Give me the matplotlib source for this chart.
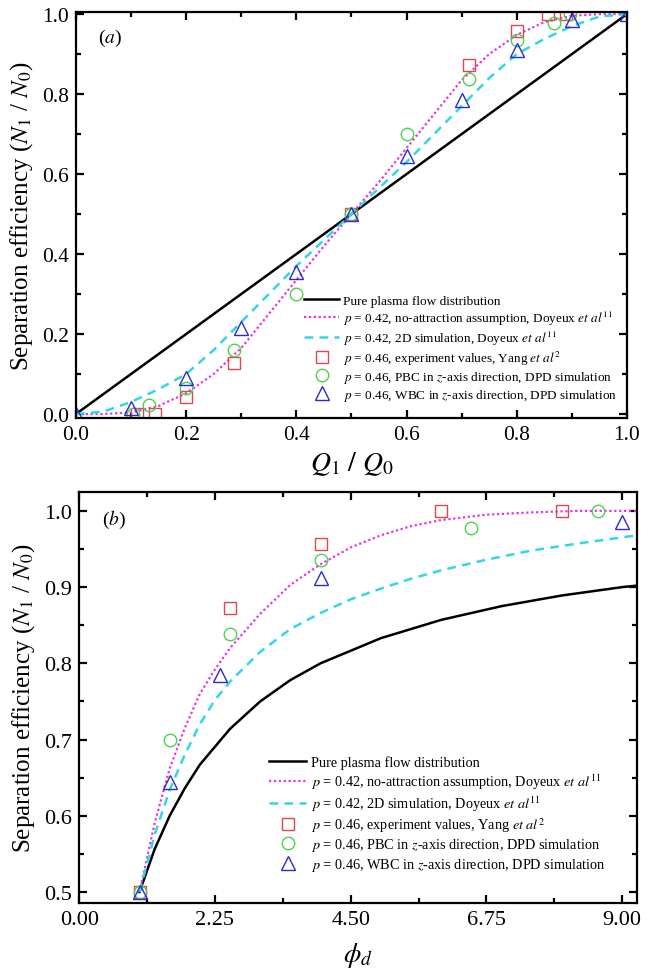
import matplotlib
matplotlib.use('Agg')
import matplotlib.pyplot as plt
from matplotlib.ticker import MultipleLocator, FormatStrFormatter

plt.rcParams['font.family'] = ['Liberation Serif', 'DejaVu Serif']
plt.rcParams['mathtext.fontset'] = 'stix'

# ---- panel (a): Q1/Q0 ----
a_line_x = [0.0, 1.0]
a_line_y = [0.0, 1.0]

a_mag_x = [0.0, 0.05, 0.1, 0.15, 0.2, 0.25, 0.3, 0.35, 0.4, 0.45, 0.5,
           0.55, 0.6, 0.65, 0.7, 0.75, 0.8, 0.85, 0.9, 0.95, 1.0]
a_mag_y = [0.0, 0.0, 0.004, 0.02, 0.052, 0.1, 0.165, 0.25, 0.335, 0.42, 0.5,
           0.58, 0.665, 0.75, 0.835, 0.9, 0.948, 0.98, 0.996, 1.0, 1.0]

a_cyan_x = [0.0, 0.05, 0.1, 0.15, 0.2, 0.25, 0.3, 0.35, 0.4, 0.45, 0.5,
            0.55, 0.6, 0.65, 0.7, 0.75, 0.8, 0.85, 0.9, 0.95, 1.0]
a_cyan_y = [0.0, 0.006, 0.03, 0.062, 0.1, 0.16, 0.23, 0.3, 0.37, 0.435, 0.5,
            0.565, 0.63, 0.7, 0.77, 0.84, 0.9, 0.938, 0.97, 0.994, 1.0]

a_sq_x = [0.111, 0.143, 0.2, 0.286, 0.5, 0.714, 0.8, 0.857, 0.889]
a_sq_y = [0.0, 0.0, 0.043, 0.128, 0.5, 0.872, 0.957, 1.0, 1.0]

a_ci_x = [0.104, 0.133, 0.2, 0.286, 0.4, 0.5, 0.6, 0.714, 0.8, 0.867, 0.896]
a_ci_y = [0.0, 0.022, 0.064, 0.161, 0.3, 0.5, 0.7, 0.839, 0.936, 0.978, 1.0]

a_tr_x = [0.0, 0.1, 0.2, 0.3, 0.4, 0.5, 0.6, 0.7, 0.8, 0.9, 1.0]
a_tr_y = [0.0, 0.015, 0.089, 0.215, 0.356, 0.5, 0.644, 0.785, 0.911, 0.985, 1.0]

# ---- panel (b): phi_d ----
b_line_x = [1.0, 1.25, 1.5, 1.75, 2.0, 2.5, 3.0, 3.5, 4.0, 5.0, 6.0, 7.0, 8.0, 9.0, 9.25]
b_line_y = [0.5, 0.556, 0.6, 0.636, 0.667, 0.714, 0.75, 0.778, 0.8, 0.833, 0.857,
            0.875, 0.889, 0.9, 0.902]

b_mag_x = [1.0, 1.25, 1.5, 1.75, 2.0, 2.25, 2.5, 3.0, 3.5, 4.0, 4.5, 5.0, 5.5,
           6.0, 6.75, 7.5, 8.25, 9.25]
b_mag_y = [0.5, 0.59, 0.662, 0.715, 0.76, 0.792, 0.82, 0.865, 0.903, 0.93, 0.952,
           0.968, 0.98, 0.988, 0.995, 0.998, 1.0, 1.0]

b_cyan_x = [1.0, 1.25, 1.5, 1.75, 2.0, 2.25, 2.5, 3.0, 3.5, 4.0, 4.5, 5.0, 5.5,
            6.0, 6.75, 7.5, 8.25, 9.25]
b_cyan_y = [0.5, 0.575, 0.634, 0.68, 0.72, 0.752, 0.776, 0.815, 0.845, 0.866, 0.884,
            0.898, 0.911, 0.922, 0.936, 0.948, 0.957, 0.968]

b_sq_x = [1.0, 2.5, 4.0, 6.0, 8.0]
b_sq_y = [0.5, 0.872, 0.957, 1.0, 1.0]

b_ci_x = [1.0, 1.5, 2.5, 4.0, 6.5, 8.6]
b_ci_y = [0.5, 0.7, 0.839, 0.936, 0.978, 1.0]

b_tr_x = [1.0, 1.5, 2.33, 4.0, 9.0]
b_tr_y = [0.5, 0.644, 0.785, 0.912, 0.986]

labels = [
    'Pure plasma flow distribution',
    r'$p$ = 0.42, no-attraction assumption, Doyeux $et\ al^{11}$',
    r'$p$ = 0.42, 2D simulation, Doyeux $et\ al^{11}$',
    r'$p$ = 0.46, experiment values, Yang $et\ al^{2}$',
    r'$p$ = 0.46, PBC in $z$-axis direction, DPD simulation',
    r'$p$ = 0.46, WBC in $z$-axis direction, DPD simulation',
]

MAG = '#e633e6'
CYAN = '#33d6e6'
RED = '#e0474c'
GREEN = '#4fd14f'
BLUE = '#2a2ad0'


def draw(ax, lx, ly, mx, my, cx, cy, sx, sy, ox, oy, tx, ty):
    ax.plot(lx, ly, color='black', lw=1.8, label=labels[0])
    ax.plot(mx, my, color=MAG, lw=1.6, ls=(0, (1, 1.2)), label=labels[1])
    ax.plot(cx, cy, color=CYAN, lw=1.8, ls=(0, (3.5, 2.5)), label=labels[2])
    ax.plot(sx, sy, ls='none', marker='s', ms=8, mfc='none', mec=RED, mew=1.0,
            label=labels[3])
    ax.plot(ox, oy, ls='none', marker='o', ms=9, mfc='none', mec=GREEN, mew=1.0,
            label=labels[4])
    ax.plot(tx, ty, ls='none', marker='^', ms=10, mfc='none', mec=BLUE, mew=1.0,
            label=labels[5])
    for s in ax.spines.values():
        s.set_linewidth(1.6)
    ax.tick_params(which='both', direction='in', top=True, right=True, width=1.6)
    ax.tick_params(which='major', length=6, pad=5)
    ax.tick_params(which='minor', length=3.5)


fig = plt.figure(figsize=(6.49, 9.79), dpi=100)

ax1 = fig.add_axes([0.117, 0.572, 0.849, 0.415])
draw(ax1, a_line_x, a_line_y, a_mag_x, a_mag_y, a_cyan_x, a_cyan_y,
     a_sq_x, a_sq_y, a_ci_x, a_ci_y, a_tr_x, a_tr_y)
ax1.set_xlim(0, 1.0)
ax1.set_ylim(-0.01, 1.006)
ax1.xaxis.set_major_locator(MultipleLocator(0.2))
ax1.xaxis.set_minor_locator(MultipleLocator(0.1))
ax1.yaxis.set_major_locator(MultipleLocator(0.2))
ax1.yaxis.set_minor_locator(MultipleLocator(0.1))
ax1.xaxis.set_major_formatter(FormatStrFormatter('%.1f'))
ax1.yaxis.set_major_formatter(FormatStrFormatter('%.1f'))
ax1.tick_params(labelsize=15.5)
ax1.set_xlabel(r'$Q_1\ /\ Q_0$', fontsize=20, labelpad=4)
ax1.set_ylabel(r'Separation efficiency ($N_1$ / $N_0$)', fontsize=18, labelpad=5)
ax1.text(0.04, 0.937, r'($a$)', transform=ax1.transAxes, fontsize=14, va='center')
ax1.legend(loc='lower left', bbox_to_anchor=(0.405, 0.025), frameon=False,
           fontsize=9.5, handlelength=2.6, handletextpad=0.3, labelspacing=0.14,
           borderaxespad=0)

ax2 = fig.add_axes([0.122, 0.0766, 0.860, 0.420])
draw(ax2, b_line_x, b_line_y, b_mag_x, b_mag_y, b_cyan_x, b_cyan_y,
     b_sq_x, b_sq_y, b_ci_x, b_ci_y, b_tr_x, b_tr_y)
ax2.set_xlim(0, 9.25)
ax2.set_ylim(0.4855, 1.025)
ax2.set_xticks([0.0, 2.25, 4.5, 6.75, 9.0])
ax2.xaxis.set_minor_locator(MultipleLocator(1.125))
ax2.yaxis.set_major_locator(MultipleLocator(0.1))
ax2.yaxis.set_minor_locator(MultipleLocator(0.05))
ax2.xaxis.set_major_formatter(FormatStrFormatter('%.2f'))
ax2.yaxis.set_major_formatter(FormatStrFormatter('%.1f'))
ax2.tick_params(labelsize=16)
ax2.set_xlabel(r'$\phi_d$', fontsize=20, labelpad=8)
ax2.set_ylabel(r'Separation efficiency ($N_1$ / $N_0$)', fontsize=18, labelpad=5)
ax2.text(0.041, 0.934, r'($b$)', transform=ax2.transAxes, fontsize=14, va='center')
ax2.legend(loc='lower left', bbox_to_anchor=(0.33, 0.06), frameon=False,
           fontsize=10.3, handlelength=2.6, handletextpad=0.3, labelspacing=0.17,
           borderaxespad=0)

fig.savefig('out.png', dpi=100)
